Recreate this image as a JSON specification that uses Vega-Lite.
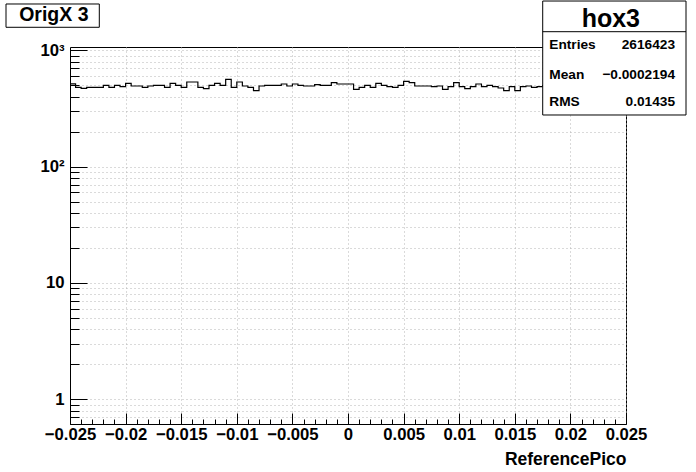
{
  "$schema": "https://vega.github.io/schema/vega-lite/v6.json",
  "width": 556,
  "height": 377,
  "autosize": {"type": "none"},
  "padding": {"left": 70, "top": 47, "right": 70, "bottom": 48},
  "background": "white",
  "config": {"view": {"stroke": "black", "strokeWidth": 1}, "font": "Liberation Sans"},
  "datasets": {
    "hist": [
      {"x": -0.025, "n": 515}, {"x": -0.0245, "n": 481}, {"x": -0.024, "n": 472}, {"x": -0.0235, "n": 481}, {"x": -0.023, "n": 481},
      {"x": -0.0225, "n": 481}, {"x": -0.022, "n": 501}, {"x": -0.0215, "n": 481}, {"x": -0.021, "n": 501}, {"x": -0.0205, "n": 488},
      {"x": -0.02, "n": 521}, {"x": -0.0195, "n": 494}, {"x": -0.019, "n": 494}, {"x": -0.0185, "n": 481}, {"x": -0.018, "n": 494},
      {"x": -0.0175, "n": 501}, {"x": -0.017, "n": 501}, {"x": -0.0165, "n": 481}, {"x": -0.016, "n": 521}, {"x": -0.0155, "n": 501},
      {"x": -0.015, "n": 481}, {"x": -0.0145, "n": 535}, {"x": -0.014, "n": 535}, {"x": -0.0135, "n": 481}, {"x": -0.013, "n": 469},
      {"x": -0.0125, "n": 501}, {"x": -0.012, "n": 521}, {"x": -0.0115, "n": 501}, {"x": -0.011, "n": 564}, {"x": -0.0105, "n": 481},
      {"x": -0.01, "n": 535}, {"x": -0.0095, "n": 494}, {"x": -0.009, "n": 481}, {"x": -0.0085, "n": 451}, {"x": -0.008, "n": 494},
      {"x": -0.0075, "n": 501}, {"x": -0.007, "n": 501}, {"x": -0.0065, "n": 501}, {"x": -0.006, "n": 514}, {"x": -0.0055, "n": 494},
      {"x": -0.005, "n": 514}, {"x": -0.0045, "n": 501}, {"x": -0.004, "n": 494}, {"x": -0.0035, "n": 494}, {"x": -0.003, "n": 507},
      {"x": -0.0025, "n": 501}, {"x": -0.002, "n": 501}, {"x": -0.0015, "n": 528}, {"x": -0.001, "n": 514}, {"x": -0.0005, "n": 514},
      {"x": 0, "n": 514}, {"x": 0.0005, "n": 463}, {"x": 0.001, "n": 481}, {"x": 0.0015, "n": 501}, {"x": 0.002, "n": 481},
      {"x": 0.0025, "n": 521}, {"x": 0.003, "n": 501}, {"x": 0.0035, "n": 488}, {"x": 0.004, "n": 481}, {"x": 0.0045, "n": 501},
      {"x": 0.005, "n": 542}, {"x": 0.0055, "n": 528}, {"x": 0.006, "n": 494}, {"x": 0.0065, "n": 494}, {"x": 0.007, "n": 494},
      {"x": 0.0075, "n": 488}, {"x": 0.008, "n": 494}, {"x": 0.0085, "n": 463}, {"x": 0.009, "n": 488}, {"x": 0.0095, "n": 528},
      {"x": 0.01, "n": 488}, {"x": 0.0105, "n": 469}, {"x": 0.011, "n": 488}, {"x": 0.0115, "n": 514}, {"x": 0.012, "n": 488},
      {"x": 0.0125, "n": 501}, {"x": 0.013, "n": 488}, {"x": 0.0135, "n": 475}, {"x": 0.014, "n": 451}, {"x": 0.0145, "n": 488},
      {"x": 0.015, "n": 451}, {"x": 0.0155, "n": 488}, {"x": 0.016, "n": 494}, {"x": 0.0165, "n": 481}, {"x": 0.017, "n": 488},
      {"x": 0.0175, "n": 497}, {"x": 0.018, "n": 505}, {"x": 0.0185, "n": 490}, {"x": 0.019, "n": 512}, {"x": 0.0195, "n": 483},
      {"x": 0.02, "n": 499}, {"x": 0.0205, "n": 508}, {"x": 0.021, "n": 486}, {"x": 0.0215, "n": 494}, {"x": 0.022, "n": 517},
      {"x": 0.0225, "n": 479}, {"x": 0.023, "n": 502}, {"x": 0.0235, "n": 491}, {"x": 0.024, "n": 509}, {"x": 0.0245, "n": 496}
    ],
    "stats": [
      {"stat": "Entries", "value": "2616423"},
      {"stat": "Mean", "value": "−0.0002194"},
      {"stat": "RMS", "value": "0.01435"}
    ],
    "one": [{"title": "OrigX 3", "name": "hox3"}]
  },
  "resolve": {"axis": {"x": "independent", "y": "independent"}},
  "layer": [
    {
      "data": {"name": "hist"},
      "mark": {"type": "line", "interpolate": "step-after", "color": "black", "strokeWidth": 1.2},
      "encoding": {
        "x": {
          "field": "x", "type": "quantitative",
          "scale": {"domain": [-0.025, 0.025], "nice": false, "zero": false},
          "axis": {
            "orient": "bottom",
            "values": [-0.025, -0.02, -0.015, -0.01, -0.005, 0, 0.005, 0.01, 0.015, 0.02, 0.025],
            "format": ".3~f",
            "labelFont": "Liberation Sans", "labelFontWeight": "bold", "labelFontSize": 16.7, "labelColor": "black",
            "labelPadding": 13, "labelOverlap": false, "labelBound": false, "labelFlush": false,
            "tickSize": -11, "tickColor": "black", "tickWidth": 1,
            "domain": true, "domainColor": "black", "domainWidth": 1,
            "grid": true, "gridColor": "#b4b4b4", "gridDash": [1, 3], "gridWidth": 1,
            "title": "ReferencePico", "titleFont": "Liberation Sans", "titleFontSize": 17.5, "titleFontWeight": "bold",
            "titleColor": "black", "titleAnchor": "end", "titleAlign": "right", "titlePadding": 8
          }
        },
        "y": {
          "field": "n", "type": "quantitative",
          "scale": {"type": "log", "domain": [0.613, 1069.5], "nice": false},
          "axis": {
            "orient": "left",
            "values": [1, 10, 100, 1000],
            "format": "d",
            "labelExpr": "datum.value == 1000 ? '10³' : datum.value == 100 ? '10²' : datum.label",
            "labelFont": "Liberation Sans", "labelFontWeight": "bold", "labelFontSize": 16.7, "labelColor": "black",
            "labelPadding": 23, "labelOverlap": false, "labelBound": false, "labelFlush": false,
            "tickSize": -17, "tickColor": "black", "tickWidth": 1,
            "domain": true, "domainColor": "black", "domainWidth": 1,
            "grid": true, "gridColor": "#b4b4b4", "gridDash": [1, 3], "gridWidth": 1,
            "title": null
          }
        }
      }
    },
    {
      "data": {"name": "one"},
      "mark": {"type": "rect", "fill": "white", "stroke": "black", "strokeWidth": 1, "clip": false},
      "encoding": {
        "x": {
          "datum": 0.01751, "type": "quantitative",
          "axis": {
            "orient": "bottom",
            "values": [-0.024, -0.023, -0.022, -0.021, -0.019, -0.018, -0.017, -0.016, -0.014, -0.013, -0.012, -0.011, -0.009, -0.008, -0.007, -0.006, -0.004, -0.003, -0.002, -0.001, 0.001, 0.002, 0.003, 0.004, 0.006, 0.007, 0.008, 0.009, 0.011, 0.012, 0.013, 0.014, 0.016, 0.017, 0.018, 0.019, 0.021, 0.022, 0.023, 0.024],
            "labels": false, "domain": false, "grid": false, "title": null,
            "tickSize": -5, "tickColor": "black", "tickWidth": 1
          }
        },
        "x2": {"datum": 0.030397},
        "y": {
          "datum": 2658, "type": "quantitative",
          "axis": {
            "orient": "left",
            "values": [0.7, 0.8, 0.9, 2, 3, 4, 5, 6, 7, 8, 9, 20, 30, 40, 50, 60, 70, 80, 90, 200, 300, 400, 500, 600, 700, 800, 900],
            "labels": false, "domain": false, "title": null,
            "grid": true, "gridColor": "#b4b4b4", "gridDash": [1, 3], "gridWidth": 1,
            "tickSize": -9, "tickColor": "black", "tickWidth": 1
          }
        },
        "y2": {"datum": 278.3}
      }
    },
    {
      "data": {"name": "one"},
      "mark": {"type": "rule", "color": "black", "strokeWidth": 1, "clip": false},
      "encoding": {
        "x": {"datum": 0.01751, "type": "quantitative", "axis": null},
        "x2": {"datum": 0.030397},
        "y": {"datum": 1448, "type": "quantitative", "axis": null}
      }
    },
    {
      "data": {"name": "one"},
      "mark": {"type": "text", "font": "Liberation Sans", "fontWeight": "bold", "fontSize": 25, "align": "center", "baseline": "alphabetic", "color": "black", "clip": false},
      "encoding": {
        "x": {"datum": 0.023635, "type": "quantitative", "axis": null},
        "y": {"datum": 1599, "type": "quantitative", "axis": null},
        "text": {"field": "name"}
      }
    },
    {
      "data": {"name": "one"},
      "mark": {"type": "rect", "fill": "white", "stroke": "black", "strokeWidth": 1, "clip": false},
      "encoding": {
        "x": {"datum": -0.030755, "type": "quantitative", "axis": null},
        "x2": {"datum": -0.022365},
        "y": {"datum": 2506, "type": "quantitative", "axis": null},
        "y2": {"datum": 1580}
      }
    },
    {
      "data": {"name": "one"},
      "mark": {"type": "text", "font": "Liberation Sans", "fontWeight": "bold", "fontSize": 19.5, "align": "center", "baseline": "alphabetic", "color": "black", "clip": false},
      "encoding": {
        "x": {"datum": -0.026457, "type": "quantitative", "axis": null},
        "y": {"datum": 1800, "type": "quantitative", "axis": null},
        "text": {"field": "title"}
      }
    },
    {
      "data": {"name": "stats"},
      "transform": [{"filter": "datum.stat == 'Entries'"}],
      "encoding": {"y": {"datum": 1022, "type": "quantitative", "axis": null}},
      "layer": [
        {"mark": {"type": "text", "font": "Liberation Sans", "fontWeight": "bold", "fontSize": 13.7, "align": "left", "baseline": "alphabetic", "color": "black", "clip": false},
         "encoding": {"x": {"datum": 0.018103, "type": "quantitative", "axis": null}, "text": {"field": "stat"}}},
        {"mark": {"type": "text", "font": "Liberation Sans", "fontWeight": "bold", "fontSize": 13.7, "align": "right", "baseline": "alphabetic", "color": "black", "clip": false},
         "encoding": {"x": {"datum": 0.029408, "type": "quantitative", "axis": null}, "text": {"field": "value"}}}
      ]
    },
    {
      "data": {"name": "stats"},
      "transform": [{"filter": "datum.stat == 'Mean'"}],
      "encoding": {"y": {"datum": 564, "type": "quantitative", "axis": null}},
      "layer": [
        {"mark": {"type": "text", "font": "Liberation Sans", "fontWeight": "bold", "fontSize": 13.7, "align": "left", "baseline": "alphabetic", "color": "black", "clip": false},
         "encoding": {"x": {"datum": 0.018103, "type": "quantitative", "axis": null}, "text": {"field": "stat"}}},
        {"mark": {"type": "text", "font": "Liberation Sans", "fontWeight": "bold", "fontSize": 13.7, "align": "right", "baseline": "alphabetic", "color": "black", "clip": false},
         "encoding": {"x": {"datum": 0.029408, "type": "quantitative", "axis": null}, "text": {"field": "value"}}}
      ]
    },
    {
      "data": {"name": "stats"},
      "transform": [{"filter": "datum.stat == 'RMS'"}],
      "encoding": {"y": {"datum": 333, "type": "quantitative", "axis": null}},
      "layer": [
        {"mark": {"type": "text", "font": "Liberation Sans", "fontWeight": "bold", "fontSize": 13.7, "align": "left", "baseline": "alphabetic", "color": "black", "clip": false},
         "encoding": {"x": {"datum": 0.018103, "type": "quantitative", "axis": null}, "text": {"field": "stat"}}},
        {"mark": {"type": "text", "font": "Liberation Sans", "fontWeight": "bold", "fontSize": 13.7, "align": "right", "baseline": "alphabetic", "color": "black", "clip": false},
         "encoding": {"x": {"datum": 0.029408, "type": "quantitative", "axis": null}, "text": {"field": "value"}}}
      ]
    }
  ]
}
